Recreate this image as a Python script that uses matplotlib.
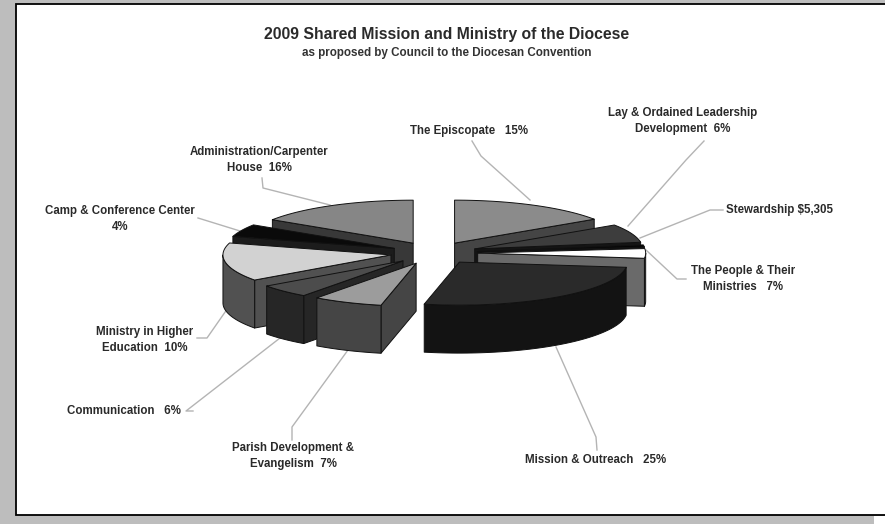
import numpy as np
import matplotlib
matplotlib.use("Agg")
import matplotlib.pyplot as plt
from matplotlib.patches import Polygon, Rectangle

# share of the pie for each slice, clockwise from 12 o'clock
names = ["The Episcopate   15%",
         "Lay & Ordained Leadership\nDevelopment  6%",
         "Stewardship $5,305",
         "The People & Their\nMinistries   7%",
         "Mission & Outreach   25%",
         "Parish Development &\nEvangelism  7%",
         "Communication   6%",
         "Ministry in Higher\nEducation  10%",
         "Camp & Conference Center\n4%",
         "Administration/Carpenter\nHouse  16%"]
shares = [15.6, 6.9, 0.8, 3.6, 26.4, 6.7, 5.0, 14.4, 4.7, 15.8]

top_colors = ["#8b8b8b", "#3d3d3d", "#050505", "#ffffff", "#2a2a2a",
              "#9c9c9c", "#4c4c4c", "#d2d2d2", "#0a0a0a", "#868686"]
side_colors = ["#454545", "#151515", "#101010", "#6a6a6a", "#131313",
               "#454545", "#262626", "#515151", "#1c1c1c", "#383838"]

# pie geometry, in pixels of the 885x524 picture
cx, cy = 434, 253
rx, ry = 168, 43
depth = 48
explode = 0.26
draw_order = [9, 0, 8, 1, 2, 7, 3, 6, 4, 5]

label_pos = [(469, 131), (683, 121), (780, 210), (743, 279), (596, 460),
             (293, 456), (124, 411), (145, 340), (120, 219), (259, 160)]
leaders = [[(472, 141), (481, 156), (530, 200)],
           [(704, 141), (686, 160), (628, 226)],
           [(723, 210), (710, 210), (640, 238)],
           [(686, 279), (677, 279), (646, 250)],
           [(597, 450), (596, 437), (556, 347)],
           [(292, 440), (292, 427), (348, 350)],
           [(193, 411), (186, 411), (280, 338)],
           [(197, 338), (207, 338), (230, 305)],
           [(198, 218), (240, 231)],
           [(262, 178), (263, 188), (330, 205)]]


def rim(angles, ox, oy):
    a = np.radians(angles)
    return np.column_stack([ox + rx * np.sin(a), oy - ry * np.cos(a)])


def draw_slice(ax, start, end, top, side):
    mid = np.radians((start + end) / 2)
    ox = cx + explode * rx * np.sin(mid)
    oy = cy - explode * ry * np.cos(mid)
    apex = np.array([ox, oy])
    drop = np.array([0, depth])
    style = dict(edgecolor="#111111", linewidth=0.7, joinstyle="round")

    # radial walls, only when they face the viewer
    for ang, visible in ((start, np.sin(np.radians(start)) < 0),
                         (end, np.sin(np.radians(end)) > 0)):
        if visible:
            p = rim([ang], ox, oy)[0]
            ax.add_patch(Polygon([apex, p, p + drop, apex + drop],
                                 facecolor=side, **style))
    # outer wall, front half of the rim only
    lo, hi = max(start, 90), min(end, 270)
    if hi > lo:
        r = rim(np.linspace(lo, hi, 60), ox, oy)
        ax.add_patch(Polygon(np.vstack([r, (r + drop)[::-1]]),
                             facecolor=side, **style))
    r = rim(np.linspace(start, end, 80), ox, oy)
    ax.add_patch(Polygon(np.vstack([apex, r]), facecolor=top, **style))


fig = plt.figure(figsize=(8.85, 5.24), dpi=100, facecolor="#bdbdbd")
ax = fig.add_axes([0, 0, 1, 1])
ax.set_xlim(0, 885)
ax.set_ylim(524, 0)
ax.axis("off")
plt.rcParams["font.family"] = ["Liberation Sans", "DejaVu Sans"]

ax.add_patch(Rectangle((16, 4), 880, 511, facecolor="white", edgecolor="black", linewidth=1.3))
ax.add_patch(Rectangle((874, 516), 11, 8, facecolor="white", edgecolor="none"))

edges = np.cumsum([0] + shares) / sum(shares) * 360
for i, path in enumerate(leaders):
    xs, ys = zip(*path)
    ax.plot(xs, ys, color="#b4b4b4", linewidth=1.0, zorder=1)
    ax.text(*label_pos[i], names[i], ha="center", va="center", fontsize=8.3,
            fontweight="bold", color="#2a2a2a", linespacing=1.38, zorder=5)

for i in draw_order:
    draw_slice(ax, edges[i], edges[i + 1], top_colors[i], side_colors[i])

ax.text(447, 34, "2009 Shared Mission and Ministry of the Diocese", ha="center", va="center",
        fontsize=11.3, fontweight="bold", color="#2a2a2a")
ax.text(447, 53, "as proposed by Council to the Diocesan Convention", ha="center", va="center",
        fontsize=8.4, fontweight="bold", color="#333333")

fig.savefig("out.png", dpi=100, facecolor=fig.get_facecolor())
